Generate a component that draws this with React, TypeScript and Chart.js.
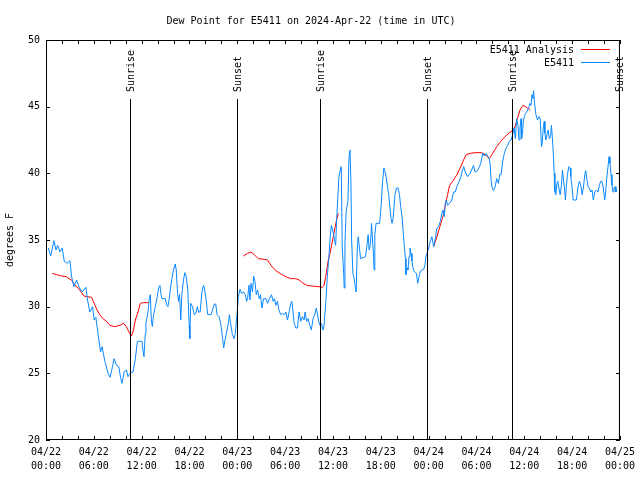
import React, { useEffect, useRef } from "react";
import { Chart, registerables } from "chart.js";

Chart.register(...registerables);

const TITLE = "Dew Point for E5411 on 2024-Apr-22 (time in UTC)";
const Y_LABEL = "degrees F";
const FONT = "'DejaVu Sans Mono', 'Liberation Mono', monospace";

const X_MIN_HOURS = 0;
const X_MAX_HOURS = 72;
const X_TICK_STEP = 2;
const X_LABEL_STEP = 6;
const X_TICK_DATES = ["04/22", "04/22", "04/22", "04/22", "04/23", "04/23", "04/23", "04/23", "04/24", "04/24", "04/24", "04/24", "04/25"];
const X_TICK_TIMES = ["00:00", "06:00", "12:00", "18:00", "00:00", "06:00", "12:00", "18:00", "00:00", "06:00", "12:00", "18:00", "00:00"];

const Y_MIN = 20;
const Y_MAX = 50;
const Y_STEP = 5;

const SUN_EVENT_HOURS = [10.5, 23.9, 34.4, 47.8, 58.4, 71.85];
const SUN_EVENT_LABELS = ["Sunrise", "Sunset", "Sunrise", "Sunset", "Sunrise", "Sunset"];

const ANALYSIS_NAME = "E5411 Analysis";
const OBS_NAME = "E5411";

// [hour since 04/22 00:00 UTC, dew point F]; null marks a gap
const analysisDay1: [number, number | null][] = [
  [0.79, 32.5], [1.33, 32.4], [1.96, 32.3], [2.59, 32.25], [2.88, 32.1], [3.21, 32.0], [3.63, 31.6], [4.04, 31.4],
  [4.46, 31.05], [4.75, 30.8], [5.21, 30.75], [5.71, 30.7], [6.04, 30.25], [6.41, 29.75], [6.75, 29.4], [7.16, 29.1],
  [7.59, 28.9], [8.0, 28.6], [8.63, 28.5], [9.25, 28.6], [9.75, 28.75], [10.09, 28.5], [10.41, 28.1], [10.71, 27.8],
  [10.91, 28.1], [11.21, 29.0], [11.54, 29.6], [11.84, 30.25], [12.2, 30.3], [12.9, 30.3], [18, null],
];
const analysisDay2: [number, number | null][] = [
  [24.75, 33.8], [25.29, 34.0], [25.71, 34.1], [26.13, 33.9], [26.63, 33.6], [27.38, 33.55], [27.79, 33.5], [28.29, 33.05],
  [28.84, 32.7], [29.46, 32.45], [30.09, 32.25], [30.71, 32.1], [31.34, 32.1], [31.75, 32.0], [32.16, 31.8], [32.71, 31.6],
  [33.29, 31.55], [34.25, 31.5], [34.66, 31.45], [34.88, 31.6], [35.09, 32.25], [35.38, 33.4], [35.63, 34.0], [35.79, 34.5],
  [36.04, 35.25], [36.41, 36.4], [36.66, 37.0], [42, null],
];
const analysisDay3: [number, number | null][] = [
  [48.63, 34.5], [49.04, 35.25], [49.46, 36.1], [49.79, 36.75], [50.09, 37.6], [50.38, 38.4], [50.63, 39.1], [51.13, 39.5],
  [51.54, 39.9], [51.96, 40.4], [52.38, 41.0], [52.71, 41.4], [53.21, 41.5], [53.84, 41.55], [54.66, 41.55], [55.09, 41.4],
  [55.63, 41.1], [56.13, 41.6], [56.54, 42.0], [57.04, 42.4], [57.59, 42.75], [58.13, 43.05], [58.54, 43.2], [58.84, 43.5],
  [59.13, 44.1], [59.46, 44.75], [59.84, 45.1], [60.13, 45.0], [60.41, 44.9], [60.75, 44.75],
];

const obsDay1: [number, number][] = [
  [0.29, 34.4], [0.59, 33.8], [1.0, 34.95], [1.25, 34.25], [1.46, 34.6], [1.75, 34.1], [2.04, 34.4], [2.29, 33.4],
  [2.66, 33.25], [3.0, 33.45], [3.21, 32.25], [3.5, 31.5], [3.84, 32.0], [4.16, 31.45], [4.54, 31.1], [5.0, 31.45],
  [5.21, 30.5], [5.5, 29.6], [5.84, 30.0], [6.04, 29.0], [6.25, 29.2], [6.54, 27.9], [6.84, 26.6], [7.04, 27.0],
  [7.38, 25.9], [7.79, 25.0], [8.04, 24.7], [8.34, 25.5], [8.54, 26.1], [8.84, 25.6], [9.13, 25.5], [9.38, 24.6],
  [9.54, 24.25], [9.79, 25.1], [10.09, 25.25], [10.29, 24.75], [10.59, 25.05], [10.91, 25.1], [11.21, 26.1], [11.46, 27.4],
  [11.75, 27.4], [12.04, 27.4], [12.16, 26.75], [12.29, 26.25], [12.46, 28.0], [12.54, 28.75], [12.79, 29.6], [12.96, 30.6],
  [13.09, 30.9], [13.21, 29.0], [13.34, 28.5], [13.46, 29.25], [13.71, 30.0], [13.91, 30.6], [14.13, 31.4], [14.29, 31.6],
  [14.41, 31.0], [14.54, 30.6], [14.96, 30.6], [15.16, 30.1], [15.29, 30.0], [15.46, 30.6], [15.59, 31.25], [15.79, 32.1],
  [16.0, 32.75], [16.21, 33.2], [16.34, 32.75], [16.5, 31.0], [16.63, 30.4], [16.75, 30.9], [16.91, 29.0], [17.04, 30.9],
  [17.25, 32.0], [17.41, 32.55], [17.59, 32.25], [17.79, 31.25], [17.96, 28.6], [18.04, 27.6], [18.16, 30.25], [18.38, 30.0],
  [18.59, 29.4], [18.79, 29.5], [19.0, 30.0], [19.13, 29.6], [19.34, 29.6], [19.54, 31.0], [19.75, 31.6], [19.88, 31.4],
  [20.09, 30.5], [20.29, 29.4], [20.71, 29.4], [20.88, 29.75], [21.13, 30.2], [21.29, 30.2], [21.46, 29.4], [21.71, 29.25],
  [21.91, 28.75], [22.13, 27.75], [22.29, 26.9], [22.46, 27.5], [22.66, 28.1], [22.88, 28.75], [23.0, 29.4], [23.16, 28.75],
  [23.38, 27.9], [23.59, 27.6], [23.75, 28.0], [23.96, 29.4],
];
const obsDay2: [number, number][] = [
  [24.13, 30.75], [24.34, 31.3], [24.54, 31.0], [24.79, 31.1], [25.0, 30.9], [25.16, 30.4], [25.29, 30.6], [25.46, 31.6],
  [25.59, 30.5], [25.71, 31.75], [25.91, 31.1], [26.04, 32.3], [26.21, 31.9], [26.38, 30.9], [26.54, 31.25], [26.75, 30.6],
  [26.91, 30.9], [27.09, 29.9], [27.29, 30.6], [27.59, 30.6], [27.79, 30.25], [28.04, 30.6], [28.29, 30.9], [28.5, 30.4],
  [28.66, 30.6], [28.84, 30.1], [29.04, 30.4], [29.21, 29.75], [29.46, 29.4], [29.66, 29.5], [29.88, 29.4], [30.09, 29.6],
  [30.29, 29.0], [30.5, 29.6], [30.71, 30.25], [30.84, 30.4], [30.96, 29.75], [31.13, 28.75], [31.34, 28.4], [31.54, 28.4],
  [31.75, 29.6], [31.96, 28.9], [32.16, 29.25], [32.38, 29.0], [32.5, 29.6], [32.71, 28.9], [32.88, 29.1], [33.09, 28.6],
  [33.29, 28.25], [33.5, 29.1], [33.71, 29.4], [33.91, 29.9], [34.04, 29.5], [34.21, 28.9], [34.38, 28.6], [34.54, 28.75],
  [34.75, 28.25], [34.88, 28.6], [35.09, 30.25], [35.29, 32.25], [35.46, 33.5], [35.63, 35.0], [35.79, 36.1], [35.96, 35.75],
  [36.09, 35.4], [36.2, 34.9], [36.34, 34.6], [36.46, 36.5], [36.59, 38.0], [36.75, 39.75], [36.91, 40.25], [37.04, 40.5],
  [37.16, 34.5], [37.34, 32.5], [37.41, 31.4], [37.5, 34.75], [37.66, 37.25], [37.88, 37.9], [38.0, 41.0], [38.13, 41.75],
  [38.25, 39.4], [38.34, 35.0], [38.5, 32.5], [38.66, 32.1], [38.79, 31.5], [38.91, 31.1], [39.04, 34.25], [39.16, 35.25],
  [39.29, 34.6], [39.46, 33.6], [40.09, 33.75], [40.29, 34.75], [40.41, 35.4], [40.54, 34.25], [40.71, 34.75], [40.84, 36.25],
  [40.96, 35.0], [41.09, 33.75], [41.16, 32.75], [41.25, 35.4], [41.41, 36.25], [41.84, 36.25], [41.96, 36.9], [42.09, 38.0],
  [42.21, 39.25], [42.38, 40.4], [42.5, 40.2], [42.66, 39.75], [42.84, 39.0], [43.0, 38.4], [43.13, 37.5], [43.29, 36.6],
  [43.41, 36.25], [43.54, 36.6], [43.66, 37.5], [43.79, 38.4], [43.96, 38.9], [44.16, 38.9], [44.34, 38.4], [44.5, 37.5],
  [44.66, 36.75], [44.79, 35.75], [44.96, 34.5], [45.09, 33.6], [45.16, 32.4], [45.29, 32.9], [45.41, 32.75], [45.54, 33.75],
  [45.66, 34.4], [45.79, 34.0], [45.91, 33.4], [46.09, 32.75], [46.25, 32.6], [46.46, 32.5], [46.63, 31.75], [46.75, 32.1],
  [46.88, 32.5], [47.09, 32.75], [47.38, 32.8], [47.54, 33.1], [47.66, 33.75], [47.84, 34.1],
];
const obsDay3: [number, number][] = [
  [48.0, 34.4], [48.21, 34.9], [48.41, 35.25], [48.63, 34.5], [48.84, 35.1], [49.04, 35.9], [49.25, 36.0], [49.46, 36.4],
  [49.66, 37.0], [49.79, 37.25], [49.96, 36.75], [50.09, 37.75], [50.21, 38.0], [50.38, 37.6], [50.63, 37.75], [50.91, 38.0],
  [51.13, 38.6], [51.34, 38.6], [51.54, 39.0], [51.84, 39.4], [52.04, 39.75], [52.25, 40.25], [52.41, 40.5], [52.59, 40.1],
  [52.88, 39.75], [53.21, 40.0], [53.5, 40.4], [53.63, 40.6], [53.84, 40.1], [54.13, 40.2], [54.38, 40.5], [54.54, 40.75],
  [54.79, 41.5], [55.0, 41.3], [55.21, 41.5], [55.41, 41.3], [55.59, 41.1], [55.71, 40.75], [55.84, 39.5], [55.96, 38.9],
  [56.13, 38.7], [56.34, 39.0], [56.54, 39.6], [56.75, 39.25], [56.91, 39.9], [57.09, 39.9], [57.29, 40.9], [57.5, 41.5],
  [57.71, 41.9], [57.91, 42.1], [58.13, 42.4], [58.34, 42.5], [58.54, 42.9], [58.71, 43.4], [58.88, 42.6], [59.04, 44.1],
  [59.21, 43.6], [59.34, 42.5], [59.46, 43.4], [59.59, 44.1], [59.66, 42.6], [59.79, 43.1], [59.88, 43.9], [60.0, 44.25],
  [60.16, 44.5], [60.29, 44.6], [60.41, 44.75], [60.59, 45.0], [60.71, 45.25], [60.84, 45.1], [60.96, 45.9], [61.09, 45.6],
  [61.16, 46.2], [61.29, 45.25], [61.46, 44.4], [61.66, 44.0], [61.84, 44.25], [62.0, 44.1], [62.16, 42.0], [62.25, 42.25],
  [62.38, 43.4], [62.5, 43.9], [62.59, 43.0], [62.71, 42.5], [62.88, 43.0], [63.0, 43.25], [63.13, 42.6], [63.29, 42.75],
  [63.41, 43.6], [63.54, 42.5], [63.66, 41.25], [63.75, 40.0], [63.84, 38.6], [63.96, 38.4], [64.09, 39.25], [64.21, 39.4],
  [64.34, 38.9], [64.5, 38.4], [64.66, 39.1], [64.79, 40.25], [64.91, 39.5], [65.04, 38.9], [65.16, 38.0], [65.29, 39.1],
  [65.41, 39.9], [65.59, 40.5], [65.75, 40.4], [65.84, 39.75], [66.0, 38.9], [66.13, 38.0], [66.34, 38.0], [66.54, 38.0],
  [66.75, 39.0], [66.91, 39.4], [67.09, 39.1], [67.25, 38.4], [67.41, 38.9], [67.59, 39.9], [67.71, 40.2], [67.84, 39.6],
  [68.0, 39.0], [68.16, 38.9], [68.34, 38.6], [68.5, 38.75], [68.66, 38.0], [68.84, 38.6], [69.04, 38.75], [69.25, 38.6],
  [69.41, 39.1], [69.59, 39.4], [69.75, 39.4], [69.91, 38.9], [70.09, 38.0], [70.21, 38.6], [70.34, 39.6], [70.5, 40.5],
  [70.63, 41.25], [70.75, 40.75], [70.88, 39.9], [71.0, 39.1], [71.13, 38.6], [71.25, 38.9], [71.38, 39.0], [71.5, 38.6],
  [71.63, 38.75],
];

const RED = "#ff0000";
const BLUE = "#0a88ff";

const toPoints = (rows: [number, number | null][]) => rows.map(([x, y]) => ({ x, y }));

const framePlugin = {
  id: "gnuFrame",
  afterDatasetsDraw(chart: any) {
    const { ctx, chartArea, scales } = chart;
    const { left, right, top, bottom } = chartArea;
    const xs = scales.x;
    const ys = scales.y;
    ctx.save();
    ctx.strokeStyle = "#000";
    ctx.lineWidth = 1;
    // sunrise / sunset markers
    ctx.font = `10px ${FONT}`;
    ctx.fillStyle = "#000";
    SUN_EVENT_HOURS.forEach((h, i) => {
      const px = Math.round(xs.getPixelForValue(h)) + 0.5;
      ctx.beginPath();
      ctx.moveTo(px, 99);
      ctx.lineTo(px, bottom);
      ctx.stroke();
      ctx.save();
      ctx.translate(px + 1, 92);
      ctx.rotate(-Math.PI / 2);
      ctx.textAlign = "left";
      ctx.textBaseline = "middle";
      ctx.fillText(SUN_EVENT_LABELS[i], 0, 0);
      ctx.restore();
    });
    // border
    ctx.strokeRect(left + 0.5, top + 0.5, right - left - 1, bottom - top - 1);
    // inward ticks
    ctx.beginPath();
    for (let h = X_MIN_HOURS; h <= X_MAX_HOURS; h += X_TICK_STEP) {
      const px = Math.round(xs.getPixelForValue(h)) + 0.5;
      ctx.moveTo(px, bottom);
      ctx.lineTo(px, bottom - 4);
      ctx.moveTo(px, top);
      ctx.lineTo(px, top + 4);
    }
    for (let v = Y_MIN; v <= Y_MAX; v += Y_STEP) {
      const py = Math.round(ys.getPixelForValue(v)) + 0.5;
      ctx.moveTo(left, py);
      ctx.lineTo(left + 4, py);
      ctx.moveTo(right, py);
      ctx.lineTo(right - 4, py);
    }
    ctx.stroke();
    // legend
    ctx.textAlign = "right";
    ctx.textBaseline = "middle";
    const entries = [
      { name: ANALYSIS_NAME, color: RED, y: 50 },
      { name: OBS_NAME, color: BLUE, y: 63 },
    ];
    entries.forEach((e) => {
      ctx.fillStyle = "#000";
      ctx.fillText(e.name, 574, e.y);
      ctx.strokeStyle = e.color;
      ctx.beginPath();
      ctx.moveTo(581, e.y - 0.5);
      ctx.lineTo(610, e.y - 0.5);
      ctx.stroke();
    });
    ctx.restore();
  },
};

export default function App() {
  const ref = useRef<HTMLCanvasElement | null>(null);
  useEffect(() => {
    if (!ref.current) return;
    const tickValues: number[] = [];
    for (let h = X_MIN_HOURS; h <= X_MAX_HOURS; h += X_TICK_STEP) tickValues.push(h);
    const chart = new Chart(ref.current, {
      type: "line",
      data: {
        datasets: [
          {
            label: OBS_NAME,
            data: toPoints([...obsDay1, ...obsDay2, ...obsDay3]),
            borderColor: BLUE,
            borderWidth: 1,
            pointRadius: 0,
            tension: 0,
          },
          {
            label: ANALYSIS_NAME,
            data: toPoints([...analysisDay1, ...analysisDay2, ...analysisDay3]),
            borderColor: RED,
            borderWidth: 1,
            pointRadius: 0,
            tension: 0,
            spanGaps: false,
          },
        ],
      },
      options: {
        animation: false,
        responsive: false,
        devicePixelRatio: 1,
        parsing: false as any,
        layout: { padding: { left: 0, right: 18, top: 0, bottom: 0 } },
        plugins: {
          legend: { display: false },
          tooltip: { enabled: false },
          title: {
            display: true,
            text: TITLE,
            color: "#000",
            font: { family: FONT, size: 10, weight: "normal" as any },
            padding: { top: 15, bottom: 13 },
          },
        },
        scales: {
          x: {
            type: "linear",
            min: X_MIN_HOURS,
            max: X_MAX_HOURS,
            afterFit: (s: any) => {
              s.height = 40;
            },
            afterBuildTicks: (s: any) => {
              s.ticks = tickValues.map((v) => ({ value: v }));
            },
            grid: { display: false, drawTicks: false },
            border: { display: false },
            ticks: {
              autoSkip: false,
              maxRotation: 0,
              minRotation: 0,
              padding: 5,
              color: "#000",
              font: { family: FONT, size: 10, lineHeight: "14px" as any },
              callback: (v: any) => {
                const n = Number(v);
                if (n % X_LABEL_STEP !== 0) return "";
                const i = n / X_LABEL_STEP;
                return [X_TICK_DATES[i], X_TICK_TIMES[i]];
              },
            },
          },
          y: {
            min: Y_MIN,
            max: Y_MAX,
            afterFit: (s: any) => {
              s.width = 46;
            },
            grid: { display: false, drawTicks: false },
            border: { display: false },
            ticks: {
              stepSize: Y_STEP,
              padding: 6,
              color: "#000",
              font: { family: FONT, size: 10 },
            },
            title: {
              display: true,
              text: Y_LABEL,
              color: "#000",
              padding: { top: 4, bottom: 0 },
              font: { family: FONT, size: 10 },
            },
          },
        },
      },
      plugins: [framePlugin],
    });
    return () => chart.destroy();
  }, []);
  return (
    <div style={{ position: "absolute", left: 0, top: 0, width: 640, height: 480, background: "#fff" }}>
      <canvas ref={ref} width={640} height={480} style={{ display: "block" }} />
    </div>
  );
}
